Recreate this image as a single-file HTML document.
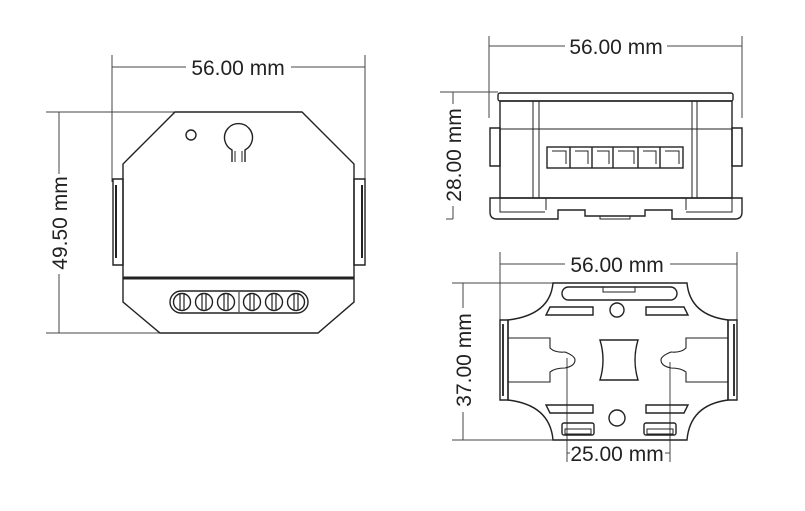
<!DOCTYPE html>
<html><head><meta charset="utf-8"><style>
html,body{margin:0;padding:0;background:#fff;width:805px;height:511px;overflow:hidden}
svg{display:block}
text{font-family:"Liberation Sans",Arial,sans-serif;font-size:21px;fill:#222}
</style></head><body>
<svg width="805" height="511" viewBox="0 0 805 511" xmlns="http://www.w3.org/2000/svg">
<g fill="none" stroke="#444" stroke-width="1">
<line x1="112" y1="55" x2="112" y2="182"/><line x1="365" y1="55" x2="365" y2="182"/>
<line x1="112" y1="67" x2="186" y2="67"/><line x1="291" y1="67" x2="365" y2="67"/>
<line x1="46" y1="112" x2="175" y2="112"/><line x1="46" y1="333" x2="162" y2="333"/>
<line x1="59" y1="112" x2="59" y2="174"/><line x1="59" y1="274" x2="59" y2="333"/>
<line x1="489" y1="36" x2="489" y2="118"/><line x1="742" y1="36" x2="742" y2="118"/>
<line x1="489" y1="46" x2="565" y2="46"/><line x1="667" y1="46" x2="742" y2="46"/>
<line x1="440" y1="92" x2="498" y2="92"/>
<line x1="453" y1="92" x2="453" y2="104"/><line x1="453" y1="206" x2="453" y2="219"/>
<line x1="446" y1="219" x2="453" y2="219"/>
<line x1="500" y1="252" x2="500" y2="322"/><line x1="737" y1="252" x2="737" y2="322"/>
<line x1="500" y1="264" x2="565" y2="264"/><line x1="670" y1="264" x2="737" y2="264"/>
<line x1="452" y1="283" x2="555" y2="283"/><line x1="452" y1="440" x2="555" y2="440"/>
<line x1="463" y1="283" x2="463" y2="308"/><line x1="463" y1="412" x2="463" y2="440"/>
<line x1="567" y1="358" x2="567" y2="462"/><line x1="670" y1="362" x2="670" y2="462"/>
<line x1="567" y1="453" x2="570" y2="453"/><line x1="665" y1="453" x2="670" y2="453"/>
</g>
<text x="238" y="75" text-anchor="middle">56.00 mm</text>
<text transform="translate(67,223) rotate(-90)" text-anchor="middle">49.50 mm</text>
<text x="616" y="54" text-anchor="middle">56.00 mm</text>
<text transform="translate(461,155) rotate(-90)" text-anchor="middle">28.00 mm</text>
<text x="617" y="272" text-anchor="middle">56.00 mm</text>
<text transform="translate(471,360) rotate(-90)" text-anchor="middle">37.00 mm</text>
<text x="617" y="461" text-anchor="middle">25.00 mm</text>

<g fill="none" stroke="#222" stroke-width="1.4">
<path d="M175,112 L302,112 L354,164 L354,302 L318,333 L160,333 L123,302 L123,164 Z"/>
<path d="M113,179 L123,179 L123,265 L113,265 Z"/><path d="M116,185 L116,258" stroke-width="2"/>
<path d="M354,179 L365,179 L365,265 L354,265 Z"/><path d="M362,185 L362,258" stroke-width="2"/>
<line x1="123" y1="278" x2="354" y2="278" stroke-width="3"/>
<circle cx="191" cy="135" r="5"/>
<path d="M232,162 L232,150 A14,14 0 1 1 245,150 L245,162"/>
<path d="M235,162 L235,151 M242,162 L242,151" stroke-width="1"/>
<rect x="170" y="291" width="138" height="22" rx="11"/>
<line x1="239" y1="292" x2="239" y2="312" stroke-width="1"/>
<g>
<circle cx="182" cy="302" r="8.5"/><circle cx="204" cy="302" r="8.5"/><circle cx="226" cy="302" r="8.5"/>
<circle cx="252" cy="302" r="8.5"/><circle cx="274" cy="302" r="8.5"/><circle cx="296" cy="302" r="8.5"/>
<path d="M180,294 L180,310 M184,294 L184,310 M202,294 L202,310 M206,294 L206,310 M224,294 L224,310 M228,294 L228,310 M250,294 L250,310 M254,294 L254,310 M272,294 L272,310 M276,294 L276,310 M294,294 L294,310 M298,294 L298,310" stroke-width="1.2"/>
</g>
<rect x="498" y="93" width="235" height="8" rx="2"/>
<rect x="500" y="101" width="232" height="97"/>
<path d="M533,101 L533,198 M539,101 L539,198 M692,101 L692,198 M697,101 L697,198" stroke-width="1"/>
<line x1="500" y1="129" x2="732" y2="129" stroke-width="1"/>
<rect x="547" y="147" width="136" height="21"/>
<path d="M570,147 L570,168 M592,147 L592,168 M613,147 L613,168 M638,147 L638,168 M660,147 L660,168" />
<path d="M552,151 L566,151 L566,164 M575,151 L588,151 L588,164 M597,151 L609,151 L609,164 M618,151 L634,151 L634,164 M643,151 L656,151 L656,164 M665,151 L679,151 L679,164" stroke-width="1"/>
<path d="M490,128 L500,128 L500,166 L490,166 Z M732,128 L742,128 L742,166 L732,166 Z"/>
<path d="M490,198 L742,198 L742,212 Q742,219 735,219 L672,219 L672,210 L645,210 L645,216 L585,216 L585,210 L558,210 L558,219 L497,219 Q490,219 490,212 Z"/>
<path d="M500,198 L500,212 L545,212 M732,198 L732,212 L686,212 M546,198 L546,210 M686,198 L686,210 M600,216 L600,219 L630,219 L630,216" stroke-width="1"/>
<path d="M553,283 L687,283 Q690,315 728,320 L728,400 Q690,405 687,440 L553,440 Q550,405 508,400 L508,320 Q550,315 553,283 Z"/>
<path d="M500,320 L508,320 L508,400 L500,400 Z M728,320 L737,320 L737,400 L728,400 Z"/>
<path d="M503,324 L503,396 M734,324 L734,396" stroke-width="1.8"/>
<path d="M508,338 L550,338 L550,348 Q555,353 565,352 Q575,356 575,360 Q575,366 565,368 Q555,368 550,372 L550,382 L508,382" stroke-width="1.1"/>
<path d="M728,338 L686,338 L686,348 Q681,353 671,352 Q661,356 661,360 Q661,366 671,368 Q681,368 686,372 L686,382 L728,382" stroke-width="1.1"/>
<path d="M600,340 L638,340 Q632,360 638,380 L600,380 Q606,360 600,340 Z"/>
<circle cx="617" cy="310" r="7"/><circle cx="617" cy="418" r="8"/>
<rect x="562" y="287" width="115" height="13" rx="6.5"/>
<rect x="603" y="287" width="32" height="5" stroke-width="1"/>
<path d="M550,307 L593,307 L593,315 L546,315 Z M646,307 L684,307 L688,315 L646,315 Z"/>
<path d="M546,405 L593,405 L593,413 L550,413 Z M646,405 L688,405 L684,413 L646,413 Z"/>
<rect x="562" y="423" width="32" height="12" rx="2"/><rect x="565" y="429" width="26" height="5" stroke-width="1"/>
<rect x="644" y="423" width="32" height="12" rx="2"/><rect x="647" y="429" width="26" height="5" stroke-width="1"/>
</g>
</svg>
</body></html>
